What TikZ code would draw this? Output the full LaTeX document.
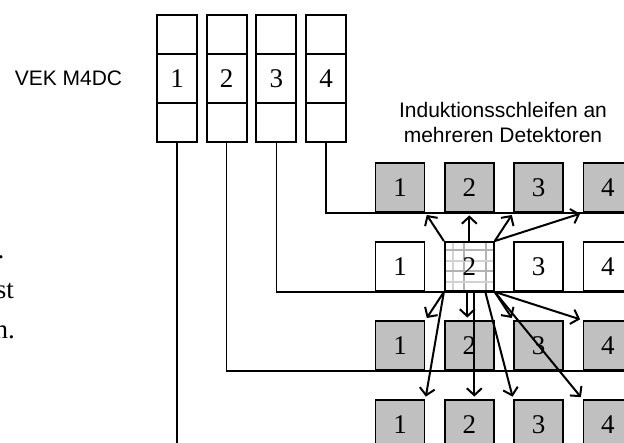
\documentclass[tikz,border=0pt]{standalone}
\usepackage{fontspec}
\setmainfont{Liberation Serif}
\newfontfamily\arialfont{Liberation Sans}
\usetikzlibrary{arrows.meta,calc}
\definecolor{detgray}{RGB}{192,192,192}

\begin{document}
\begin{tikzpicture}[x=1pt, y=-1pt, >={Straight Barb[length=7pt,width=15pt]},
	every node/.style={font=\fontsize{27}{30}\selectfont},
	cell/.style={draw, line width=1.8pt, minimum width=40pt, inner sep=0pt},
	det/.style={draw, line width=1.8pt, minimum size=49pt, inner sep=0pt},
	label/.style={font=\arialfont\fontsize{21}{25}\selectfont, inner sep=0pt},
	bus/.style={line width=1.4pt},
	arr/.style={->, line width=2pt, shorten >=2.5pt},
	det22/.style={path picture={
		\foreach \o/\g in {8/35,19/60,41/60}
			\draw[gray!\g, line width=1.6pt] ($(path picture bounding box.north west)+(\o,0)$) -- ++(0,50);
		\foreach \o/\g in {8/60,19/35,29/60,40/35}
			\draw[gray!\g, line width=1.6pt] ($(path picture bounding box.north west)+(0,\o)$) -- ++(50,0);
		}}]
	\useasboundingbox (0,0) rectangle (624,443);
	\clip (0,0) rectangle (624,443);
	\node[label] (vek) at (68.5,78.5) {VEK M4DC};
	\foreach \i in {1,...,4} {
		\node[cell, minimum height=39pt] (vt\i) at ({177+(\i-1)*49.67},34.5) {};
		\node[cell, minimum height=49pt] (vm\i) at ({177+(\i-1)*49.67},78.5) {\i};
		\node[cell, minimum height=39pt] (vb\i) at ({177+(\i-1)*49.67},122.5) {};
	}
	\node[label, align=center] (loops) at (503,122) {Induktionsschleifen an\\mehreren Detektoren};
	\foreach \r/\y/\f in {1/187.5/detgray,2/266.5/white,3/345.5/detgray,4/424.5/detgray}
		\foreach \c in {1,...,4}
			\node[det, fill=\f, det\r\c/.try] (d\r\c) at ({400+(\c-1)*69.3},\y) {\c};
	\draw[bus] (vb4.south) |- (d14.south east);
	\draw[bus] (vb3.south) |- (d24.south east);
	\draw[bus] (vb2.south) |- (d34.south east);
	\draw[bus] (vb1.south) |- (d44.south east);
	\draw[arr] (d22.north west) -- (d11.south east);
	\draw[arr] (d22.north) -- (d12.south);
	\draw[arr] (d22.north east) -- (d13.south west);
	\draw[arr] (d22.north east) -- (d14.south west);
	\draw[arr] (d22.south west) -- (d31.north east);
	\draw[arr] ([xshift=-2pt]d22.south) -- ([xshift=-2pt]d32.north);
	\draw[arr] (d22.south east) -- (d33.north west);
	\draw[arr] (d22.south east) -- (d34.north west);
	\draw[arr] (d22.south west) -- (d41.north east);
	\draw[arr] ([xshift=5pt]d22.south) -- ([xshift=5pt]d42.north);
	\draw[arr] ([xshift=16pt]d22.south) -- (d43.north west);
	\draw[arr] (d22.south east) -- (d44.north west);
	\node[anchor=base east, inner sep=0pt] (f1) at (4.5,259) {.};
	\node[anchor=base east, inner sep=0pt] (f2) at (14,299) {st};
	\node[anchor=base east, inner sep=0pt] (f3) at (15,339) {n.};
\end{tikzpicture}
\end{document}
